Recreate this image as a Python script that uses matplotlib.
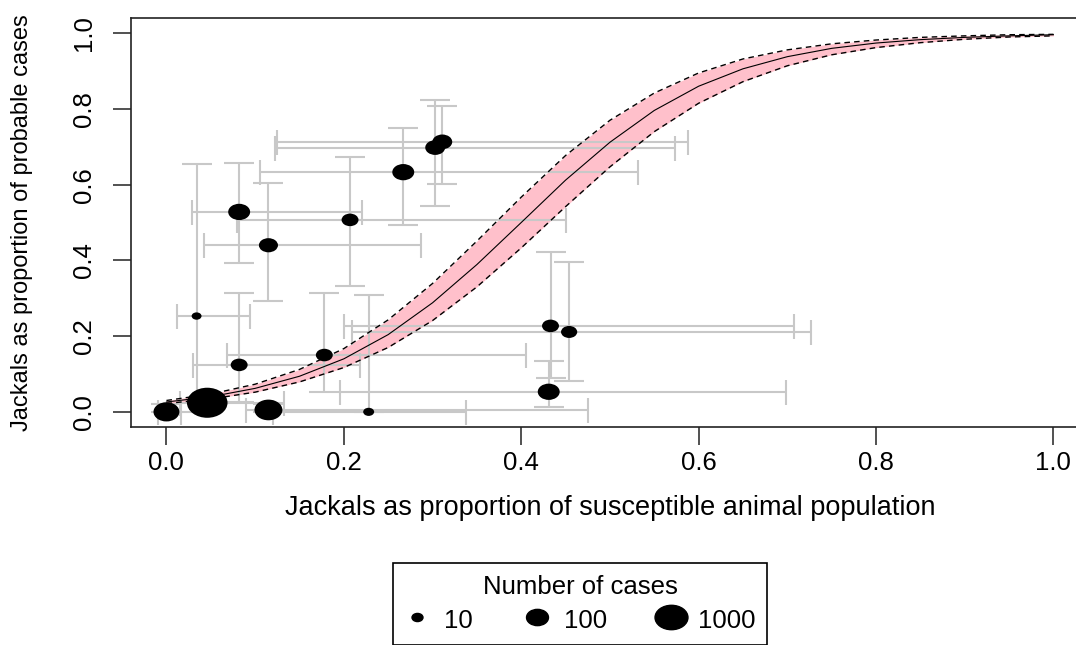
import numpy as np
import matplotlib.pyplot as plt
from matplotlib.path import Path
from matplotlib.transforms import Affine2D
from matplotlib.lines import Line2D

plt.rcParams['font.family'] = ['Liberation Sans', 'DejaVu Sans']

# Puntos observados (proporcion de chacales en poblacion vs en casos)
x_prop = np.array([0.000, 0.046, 0.115, 0.228, 0.034, 0.082, 0.178, 0.082,
                   0.115, 0.207, 0.267, 0.303, 0.311, 0.433, 0.454, 0.431])
y_prop = np.array([0.000, 0.024, 0.005, 0.000, 0.253, 0.124, 0.150, 0.528,
                   0.440, 0.507, 0.633, 0.698, 0.713, 0.227, 0.211, 0.053])
x_lo = np.array([-0.010, 0.015, 0.090, 0.120, 0.012, 0.030, 0.068, 0.029,
                 0.042, 0.079, 0.105, 0.122, 0.125, 0.200, 0.209, 0.196])
x_hi = np.array([0.016, 0.132, 0.475, 0.338, 0.094, 0.218, 0.405, 0.221,
                 0.287, 0.450, 0.532, 0.573, 0.588, 0.707, 0.727, 0.699])
y_lo = np.array([0.000, 0.005, 0.000, 0.000, 0.000, 0.025, 0.053, 0.393,
                 0.293, 0.332, 0.493, 0.544, 0.602, 0.090, 0.082, 0.013])
y_hi = np.array([0.020, 0.050, 0.020, 0.309, 0.654, 0.314, 0.314, 0.657,
                 0.604, 0.673, 0.749, 0.823, 0.807, 0.422, 0.396, 0.135])
cases = np.array([230, 5000, 350, 10, 8, 35, 35, 100, 55, 35, 100, 65, 65, 35, 30, 100])

# Curva ajustada y banda de confianza
curve_x = [0.00, 0.05, 0.10, 0.15, 0.20, 0.25, 0.30, 0.35, 0.40, 0.45, 0.50,
           0.55, 0.60, 0.65, 0.70, 0.75, 0.80, 0.85, 0.90, 0.95, 1.00]
curve_mid = [0.026, 0.040, 0.062, 0.094, 0.140, 0.204, 0.288, 0.389, 0.500, 0.612, 0.712,
             0.796, 0.860, 0.906, 0.938, 0.960, 0.974, 0.983, 0.989, 0.993, 0.996]
curve_lo = [0.022, 0.034, 0.052, 0.079, 0.117, 0.170, 0.241, 0.330, 0.433, 0.542, 0.647,
            0.740, 0.815, 0.872, 0.914, 0.943, 0.962, 0.975, 0.984, 0.990, 0.993]
curve_hi = [0.030, 0.047, 0.073, 0.112, 0.167, 0.243, 0.339, 0.451, 0.567, 0.677, 0.770,
            0.842, 0.895, 0.932, 0.956, 0.972, 0.982, 0.989, 0.993, 0.996, 0.997]

ticks = [0.0, 0.2, 0.4, 0.6, 0.8, 1.0]
tick_labels = ['0.0', '0.2', '0.4', '0.6', '0.8', '1.0']
legend_cases = [10, 100, 1000]
legend_labels = ['10', '100', '1000']

grey = '#c8c8c8'
fs = 18.5

# Marcador circular algo estirado en horizontal
ellipse = Path.unit_circle().transformed(Affine2D().scale(1.35, 1.0))


def dot_size(n):
    return 7.9 * np.log10(n)


fig = plt.figure(figsize=(10.76, 6.45), dpi=100)
ax = fig.add_axes([0.1217, 0.338, 0.8903, 0.634])

ax.fill_between(curve_x, curve_lo, curve_hi, color='pink', lw=0, zorder=1)

ax.errorbar(x_prop, y_prop, xerr=[x_prop - x_lo, x_hi - x_prop], fmt='none',
            ecolor=grey, elinewidth=1.5, capsize=9, capthick=1.5, zorder=2)
ax.errorbar(x_prop, y_prop, yerr=[y_prop - y_lo, y_hi - y_prop], fmt='none',
            ecolor=grey, elinewidth=1.5, capsize=11, capthick=1.5, zorder=2)

ax.plot(curve_x, curve_mid, color='black', lw=0.8, zorder=3)
ax.plot(curve_x, curve_lo, color='black', lw=1.0, ls=(0, (4, 3)), zorder=3)
ax.plot(curve_x, curve_hi, color='black', lw=1.0, ls=(0, (4, 3)), zorder=3)

ax.scatter(x_prop, y_prop, s=dot_size(cases) ** 2, marker=ellipse,
           c='black', linewidths=0, zorder=4)

ax.set_xlim(-0.04, 1.04)
ax.set_ylim(-0.04, 1.04)
ax.set_xticks(ticks)
ax.set_xticklabels(tick_labels)
ax.set_yticks(ticks)
ax.set_yticklabels(tick_labels, rotation=90, va='center')
ax.tick_params(axis='both', length=13, width=1.1, labelsize=fs, color='#222222')
ax.tick_params(axis='x', pad=4)
ax.tick_params(axis='y', pad=12)
for sp in ax.spines.values():
    sp.set_linewidth(1.2)
    sp.set_color('#222222')

ax.set_xlabel('Jackals as proportion of susceptible animal population', fontsize=19.5)
ax.set_ylabel('Jackals as proportion of probable cases', fontsize=17)
ax.xaxis.set_label_coords(0.5, -0.166)
ax.yaxis.set_label_coords(-0.102, 0.5)

handles = [Line2D([], [], ls='none', marker=ellipse, ms=dot_size(n), color='black')
           for n in legend_cases]
leg = fig.legend(handles, legend_labels, title='Number of cases', ncol=3,
                 loc='upper center', bbox_to_anchor=(580 / 1076, 1 - 563 / 645),
                 frameon=True, fancybox=False, edgecolor='black', framealpha=1,
                 fontsize=fs, title_fontsize=fs, handlelength=1.0, handletextpad=0.55,
                 handleheight=1.2, columnspacing=2.0, borderpad=0.45,
                 labelspacing=0.3, borderaxespad=0)
leg.get_frame().set_linewidth(1.2)

fig.savefig('out.png', dpi=100)
